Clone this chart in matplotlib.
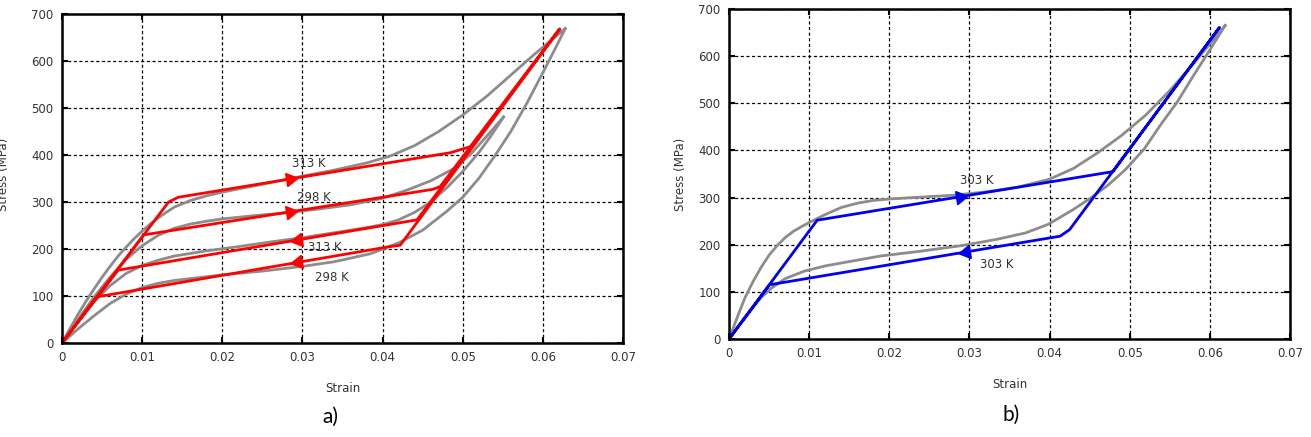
import numpy as np
import matplotlib.pyplot as plt

# ---- panel a) experiment (gray) ----
a_load_hi_x = [0, 0.001, 0.002, 0.003, 0.004, 0.005, 0.006, 0.007, 0.008, 0.009, 0.010,
               0.011, 0.012, 0.013, 0.014, 0.016, 0.018, 0.020, 0.023, 0.026, 0.030,
               0.034, 0.038, 0.041, 0.044, 0.047, 0.050, 0.053, 0.056, 0.059, 0.0628]
a_load_hi_y = [0, 31, 61, 89, 115, 140, 163, 185, 204, 222, 238,
               253, 266, 278, 289, 303, 313, 321, 331, 341, 355,
               368, 383, 398, 420, 450, 485, 525, 570, 615, 669]
a_load_lo_x = [0, 0.002, 0.004, 0.006, 0.008, 0.010, 0.012, 0.014, 0.016, 0.018, 0.020,
               0.024, 0.028, 0.032, 0.036, 0.040, 0.043, 0.046, 0.049, 0.051, 0.053, 0.0551]
a_load_lo_y = [0, 50, 98, 140, 178, 207, 229, 244, 253, 259, 264,
               271, 277, 285, 294, 308, 325, 345, 372, 402, 440, 481]
a_unl_hi_x = [0.0551, 0.0535, 0.052, 0.050, 0.048, 0.046, 0.044, 0.042, 0.040, 0.0385,
              0.036, 0.033, 0.030, 0.026, 0.022, 0.018, 0.014, 0.012, 0.010, 0.008,
              0.006, 0.004, 0.002, 0]
a_unl_hi_y = [481, 440, 405, 365, 330, 300, 278, 262, 252, 247,
              240, 232, 224, 215, 205, 196, 185, 176, 165, 148,
              122, 88, 46, 0]
a_unl_lo_x = [0.0628, 0.0615, 0.060, 0.058, 0.056, 0.054, 0.052, 0.050, 0.048, 0.045,
              0.042, 0.0385, 0.034, 0.030, 0.025, 0.020, 0.017, 0.014, 0.012, 0.010,
              0.008, 0.006, 0.004, 0.002, 0]
a_unl_lo_y = [669, 625, 575, 510, 450, 398, 350, 310, 280, 240,
              213, 190, 173, 163, 153, 145, 139, 133, 127, 118,
              104, 84, 58, 30, 0]

# ---- panel a) model (red) ----
m313_x = [0, 0.0133, 0.0145, 0.0485, 0.0510, 0.0621, 0.0443, 0.0070, 0]
m313_y = [0, 300, 310, 405, 418, 668, 262, 155, 0]
m298_x = [0, 0.0102, 0.0463, 0.0472, 0.0621, 0.0422, 0.0405, 0.0043, 0]
m298_y = [0, 230, 327, 333, 668, 208, 204, 98, 0]

# ---- panel b) experiment (gray) ----
b_load_x = [0, 0.001, 0.002, 0.003, 0.004, 0.005, 0.006, 0.007, 0.008, 0.009, 0.010,
            0.012, 0.014, 0.016, 0.018, 0.020, 0.024, 0.028, 0.032, 0.036, 0.040,
            0.043, 0.046, 0.049, 0.052, 0.055, 0.058, 0.0619]
b_load_y = [0, 45, 88, 122, 152, 178, 198, 215, 228, 238, 247,
            264, 279, 288, 294, 297, 301, 305, 312, 322, 339,
            362, 395, 432, 475, 527, 585, 665]
b_unl_x = [0.0619, 0.0598, 0.058, 0.0559, 0.054, 0.0518, 0.0495, 0.0472, 0.0452, 0.043,
           0.0398, 0.037, 0.0333, 0.029, 0.0238, 0.0189, 0.0156, 0.012, 0.0094, 0.007,
           0.0053, 0.004, 0.0024, 0.001, 0]
b_unl_y = [665, 608, 560, 502, 458, 403, 360, 325, 300, 275,
           243, 225, 211, 198, 186, 176, 166, 155, 144, 128,
           108, 88, 55, 24, 0]

# ---- panel b) model (blue) ----
m303_x = [0, 0.0110, 0.0479, 0.0612, 0.0425, 0.0413, 0.00506, 0]
m303_y = [0, 252, 355, 661, 232, 218, 115, 0]

xticks = [0, 0.01, 0.02, 0.03, 0.04, 0.05, 0.06, 0.07]
xticklabels = ["0", "0.01", "0.02", "0.03", "0.04", "0.05", "0.06", "0.07"]
yticks = [0, 100, 200, 300, 400, 500, 600, 700]

gray = "#8c8c8c"
txt = "#333333"


def style_axes(ax):
    ax.set_xlim(0, 0.07)
    ax.set_ylim(0, 700)
    ax.set_xticks(xticks)
    ax.set_xticklabels(xticklabels)
    ax.set_yticks(yticks)
    ax.grid(True, color="black", linestyle=(0, (2.5, 2)), linewidth=0.9)
    ax.tick_params(direction="in", length=4, width=1.5, labelsize=8.5,
                   labelcolor=txt, top=True, right=True, pad=6)
    for s in ax.spines.values():
        s.set_linewidth(1.8)
    ax.set_xlabel("Strain", fontsize=8.5, color=txt, labelpad=13)


def arrow(ax, px, py, x, angle, color):
    # put a triangle marker on a straight path segment
    y = np.interp(x, px, py)
    ax.plot(x, y, marker=(3, 0, angle), markersize=11, color=color, zorder=5)


fig = plt.figure(figsize=(13.11, 4.37), dpi=100)
ax1 = fig.add_axes([0.0473, 0.2151, 0.4279, 0.7529])
ax2 = fig.add_axes([0.5561, 0.2243, 0.4279, 0.7551])

# a)
for gx, gy in [(a_load_hi_x, a_load_hi_y), (a_load_lo_x, a_load_lo_y),
               (a_unl_hi_x, a_unl_hi_y), (a_unl_lo_x, a_unl_lo_y)]:
    ax1.plot(gx, gy, color=gray, lw=2)
ax1.plot(m313_x, m313_y, color="red", lw=2)
ax1.plot(m298_x, m298_y, color="red", lw=2)
arrow(ax1, m313_x[2:4], m313_y[2:4], 0.0285, -81, "red")
arrow(ax1, m298_x[1:3], m298_y[1:3], 0.0285, -81, "red")
arrow(ax1, m313_x[7:5:-1], m313_y[7:5:-1], 0.0294, 99, "red")
arrow(ax1, m298_x[7:5:-1], m298_y[7:5:-1], 0.0294, 99, "red")
ax1.text(0.0287, 375, "313 K", fontsize=8.5, color=txt)
ax1.text(0.0293, 302, "298 K", fontsize=8.5, color=txt)
ax1.text(0.0307, 196, "313 K", fontsize=8.5, color=txt)
ax1.text(0.0316, 132, "298 K", fontsize=8.5, color=txt)
style_axes(ax1)

# b)
ax2.plot(b_load_x, b_load_y, color=gray, lw=2)
ax2.plot(b_unl_x, b_unl_y, color=gray, lw=2)
ax2.plot(m303_x, m303_y, color="#0000ee", lw=2)
arrow(ax2, m303_x[1:3], m303_y[1:3], 0.0288, -81, "#0000ee")
arrow(ax2, m303_x[6:4:-1], m303_y[6:4:-1], 0.0296, 99, "#0000ee")
ax2.text(0.0288, 329, "303 K", fontsize=8.5, color=txt)
ax2.text(0.0313, 151, "303 K", fontsize=8.5, color=txt)
style_axes(ax2)
ax2.set_ylabel("Stress (MPa)", fontsize=8.5, color=txt, labelpad=8)

# left panel label sits at the figure edge, as in the source picture
fig.text(0.003, 0.60, "Stress (MPa)", rotation=90, fontsize=8.5, color=txt,
         ha="center", va="center")

fig.text(0.252, 0.045, "a)", fontsize=15, family="Lato", ha="center", va="center")
fig.text(0.771, 0.05, "b)", fontsize=15, family="Lato", ha="center", va="center")

fig.savefig("out.png", dpi=100)
